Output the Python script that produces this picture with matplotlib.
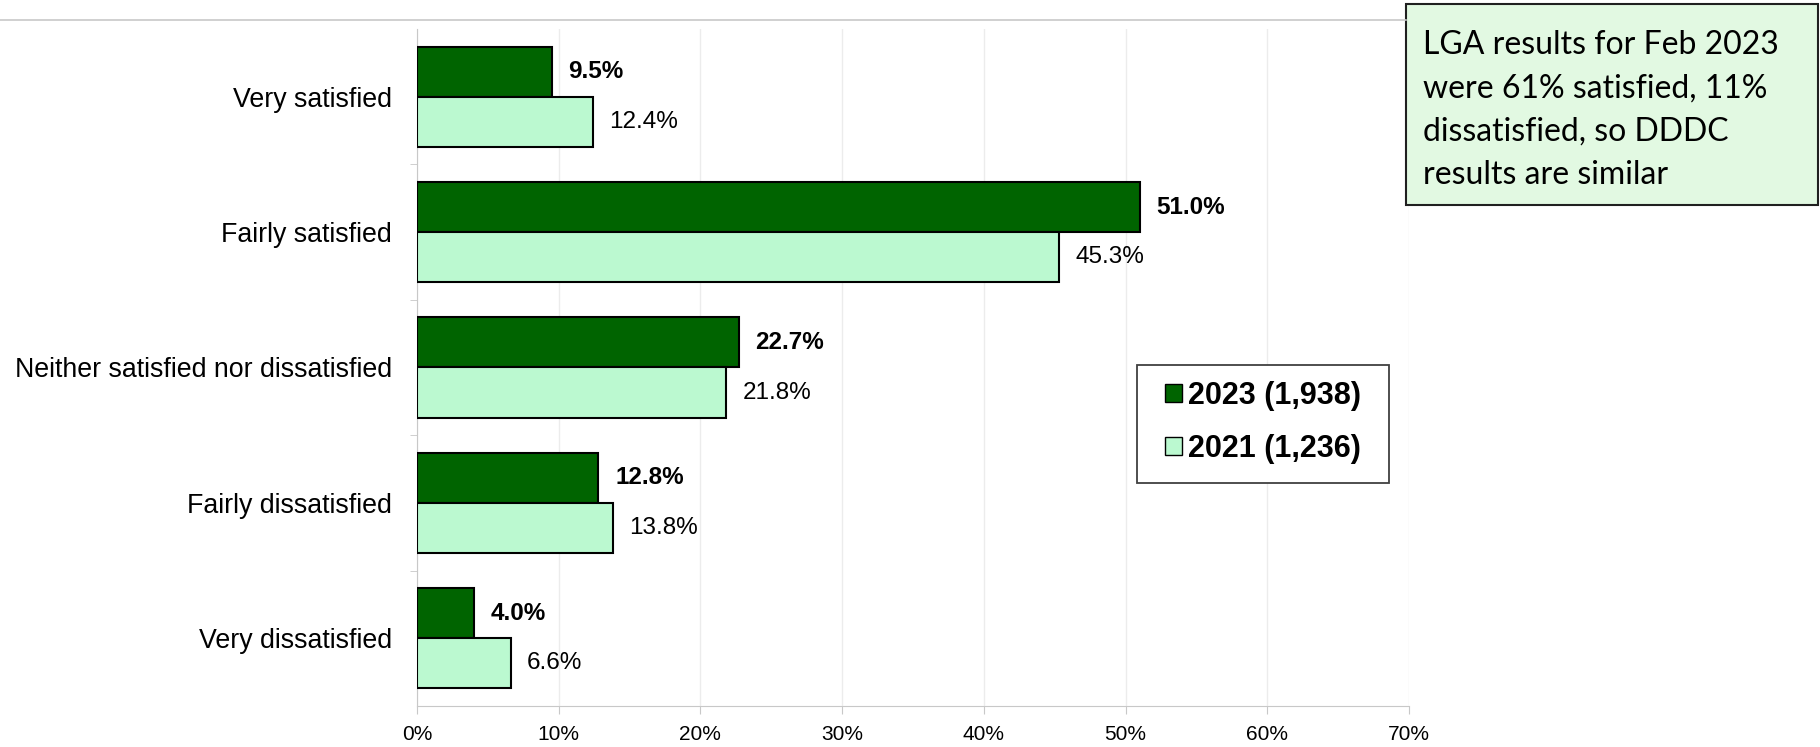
import numpy as np
import matplotlib.pyplot as plt
from matplotlib.patches import Patch, Rectangle
from matplotlib.lines import Line2D

categories = ['Very satisfied', 'Fairly satisfied', 'Neither satisfied nor dissatisfied',
              'Fairly dissatisfied', 'Very dissatisfied']
vals_2023 = [9.5, 51.0, 22.7, 12.8, 4.0]
vals_2021 = [12.4, 45.3, 21.8, 13.8, 6.6]
series_labels = ['2023 (1,938)', '2021 (1,236)']
note_text = ('LGA results for Feb 2023\nwere 61% satisfied, 11%\n'
             'dissatisfied, so DDDC\nresults are similar')

dark = '#006400'
light = '#bbf9d0'
plt.rcParams['font.family'] = ['Liberation Sans', 'DejaVu Sans']

W, H = 1820, 747
fig = plt.figure(figsize=(W / 100, H / 100), dpi=100)
ax = fig.add_axes([417 / W, 1 - 706 / H, (1409 - 417) / W, (706 - 29) / H])

y = np.arange(len(categories))
h = 0.37
ax.barh(y - h / 2, vals_2023, height=h, color=dark, edgecolor='black', linewidth=1.5, zorder=3)
ax.barh(y + h / 2, vals_2021, height=h, color=light, edgecolor='black', linewidth=1.5, zorder=3)

for i in range(len(categories)):
    ax.annotate(f'{vals_2023[i]:.1f}%', (vals_2023[i], y[i] - h / 2), xytext=(12, 0),
                textcoords='offset points', va='center', ha='left',
                fontsize=17.5, fontweight='bold')
    ax.annotate(f'{vals_2021[i]:.1f}%', (vals_2021[i], y[i] + h / 2), xytext=(12, 0),
                textcoords='offset points', va='center', ha='left', fontsize=17.5)

ax.set_xlim(0, 70)
ax.set_ylim(len(categories) - 0.5, -0.5)
ax.set_xticks(np.arange(0, 71, 10))
ax.set_xticklabels([f'{t}%' for t in range(0, 71, 10)], fontsize=15)
ax.set_yticks(y)
ax.set_yticklabels(categories, fontsize=19.3)
ax.set_yticks(np.arange(0.5, len(categories) - 1, 1), minor=True)
ax.tick_params(axis='y', which='major', length=0, pad=18)
ax.tick_params(axis='y', which='minor', length=5, color='#c8c8c8', direction='out')
ax.tick_params(axis='x', length=6, color='#c8c8c8', pad=8)
ax.grid(axis='x', color='#ececec', linewidth=1, zorder=0)
for s in ['top', 'right']:
    ax.spines[s].set_visible(False)
for s in ['left', 'bottom']:
    ax.spines[s].set_color('#c8c8c8')

# legend entries inside a hand-drawn frame
fig.add_artist(Rectangle((1137 / W, 1 - 483 / H), (1389 - 1137) / W, (483 - 365) / H,
                         facecolor='white', edgecolor='#404040', linewidth=1.3, zorder=4))
handles = [Patch(facecolor=dark, edgecolor='black'), Patch(facecolor=light, edgecolor='black')]
leg = fig.legend(handles, series_labels, loc='upper left',
                 bbox_to_anchor=(1165 / W, 1 - 381 / H), bbox_transform=fig.transFigure,
                 prop={'weight': 'bold', 'size': 22}, frameon=False,
                 handlelength=0.55, handleheight=0.55, handletextpad=0.2,
                 labelspacing=0.75, borderpad=0, borderaxespad=0)
leg.set_zorder(5)

# rule along the top and the note box in the corner
fig.add_artist(Line2D([0, 1406 / W], [1 - 20 / H, 1 - 20 / H], color='#c8c8c8', linewidth=1.2))
fig.add_artist(Rectangle((1406 / W, 1 - 205 / H), (1818 - 1406) / W, (205 - 4) / H,
                         facecolor='#e2f9e2', edgecolor='#202020', linewidth=1.5))
fig.text(1423 / W, 1 - 30 / H, note_text, fontsize=23, family=['Lato', 'DejaVu Sans'],
         va='top', ha='left', linespacing=1.56)

fig.savefig('out.png', dpi=100)
